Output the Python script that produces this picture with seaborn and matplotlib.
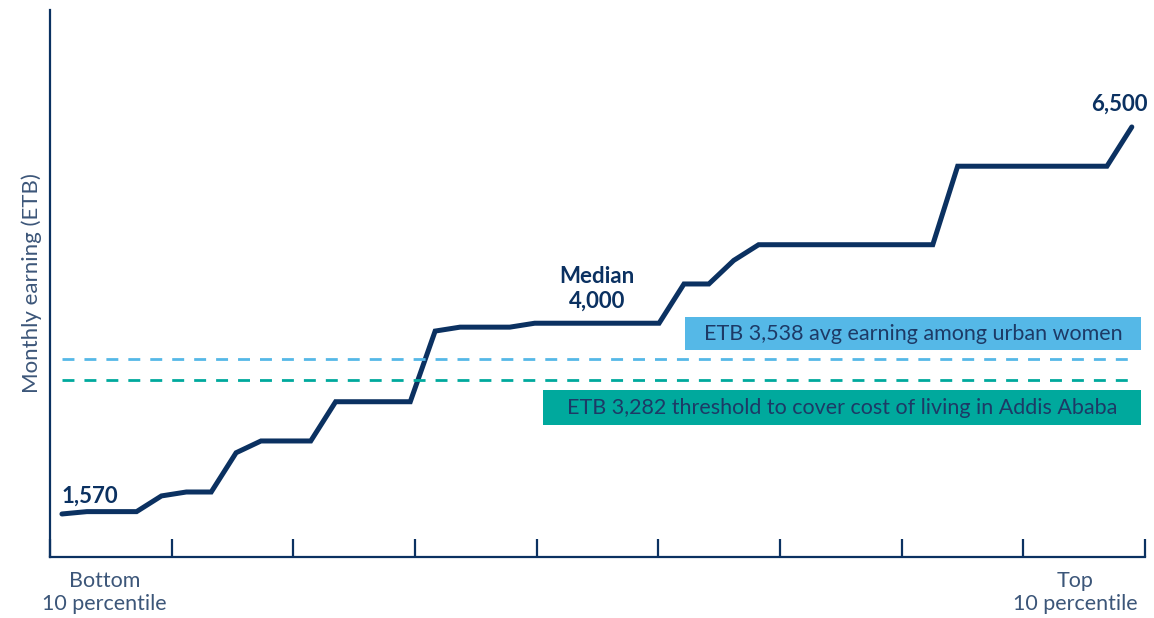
import numpy as np
import pandas as pd
import matplotlib
matplotlib.use("Agg")
import matplotlib.pyplot as plt
import matplotlib.transforms as mtransforms
from matplotlib.patches import Rectangle
import seaborn as sns

# Monthly earnings (ETB) across the earnings distribution, bottom to top
earnings = [1570, 1600, 1600, 1600, 1800, 1850, 1850, 2350, 2500, 2500,
            2500, 3000, 3000, 3000, 3000, 3900, 3950, 3950, 3950, 4000,
            4000, 4000, 4000, 4000, 4000, 4500, 4500, 4800, 5000, 5000,
            5000, 5000, 5000, 5000, 5000, 5000, 6000, 6000, 6000, 6000,
            6000, 6000, 6000, 6500]
rank = list(range(len(earnings)))

avg_urban_women = 3538
living_threshold = 3282
median_value = 4000
median_rank = 19

avg_label = "ETB 3,538 avg earning among urban women"
threshold_label = "ETB 3,282 threshold to cover cost of living in Addis Ababa"
bottom_label = "Bottom\n10 percentile"
top_label = "Top\n10 percentile"
y_label = "Monthly earning (ETB)"

NAVY = "#0b3161"
TEXT = "#1d3a66"
SOFT = "#3c5679"
BLUE = "#55b8e7"
TEAL = "#00a99d"

sns.set_theme(style="white")
plt.rcParams["font.family"] = ["Lato", "DejaVu Sans"]

df = pd.DataFrame({"rank": rank, "earning": earnings})

fig = plt.figure(figsize=(11.54, 6.18), dpi=100)
ax = fig.add_axes([50 / 1154, 1 - 557 / 618, 1095 / 1154, 547 / 618])

sns.lineplot(data=df, x="rank", y="earning", ax=ax, color=NAVY,
             linewidth=3.6, solid_joinstyle="miter", solid_capstyle="round")

x0, x1 = -0.48, 43.53
ax.set_xlim(x0, x1)
ax.set_ylim(1022, 7990)

# reference lines
ax.hlines(avg_urban_women, rank[0], rank[-1], colors=BLUE, linewidth=2.0,
          linestyles=(0, (4.3, 3.6)))
ax.hlines(living_threshold, rank[0], rank[-1], colors=TEAL, linewidth=2.0,
          linestyles=(0, (4.3, 3.6)))

# labelled boxes for the reference lines
ax.add_patch(Rectangle((25.04, 3659), 43.37 - 25.04, 4080 - 3659,
                       facecolor=BLUE, edgecolor="none", zorder=3))
ax.text(34.2, 3868, avg_label, ha="center", va="center",
        fontsize=15.5, color=TEXT, zorder=4)
ax.add_patch(Rectangle((19.33, 2704), 43.37 - 19.33, 3150 - 2704,
                       facecolor=TEAL, edgecolor="none", zorder=3))
ax.text(31.35, 2925, threshold_label, ha="center", va="center",
        fontsize=15.5, color=TEXT, zorder=4)

# value annotations
ax.text(rank[0] + 0.0, earnings[0] + 90, f"{earnings[0]:,}", ha="left",
        va="bottom", fontsize=16, fontweight="bold", color=NAVY)
ax.text(42.5, earnings[-1] + 160, f"{earnings[-1]:,}", ha="center",
        va="bottom", fontsize=16, fontweight="bold", color=NAVY)
ax.text(median_rank + 2.5, median_value + 150, f"Median\n{median_value:,}",
        ha="center", va="bottom", fontsize=16, fontweight="bold",
        color=NAVY, linespacing=1.2)

# axes styling
sns.despine(ax=ax, top=True, right=True)
for side in ("left", "bottom"):
    ax.spines[side].set_color(NAVY)
    ax.spines[side].set_linewidth(1.6)
ax.set_xticks(np.linspace(x0, x1, 10))
ax.set_xticklabels([])
ax.set_yticks([])
ax.tick_params(axis="x", direction="in", length=13, width=1.6, color=NAVY,
               bottom=True)
ax.set_xlabel("")
ax.set_ylabel(y_label, fontsize=16, color=SOFT, labelpad=6)

trans = mtransforms.blended_transform_factory(ax.transAxes, ax.transAxes)
ax.text(0.050, -0.025, bottom_label, transform=trans, ha="center", va="top",
        fontsize=15.5, color=SOFT, linespacing=1.2)
ax.text(0.936, -0.025, top_label, transform=trans, ha="center", va="top",
        fontsize=15.5, color=SOFT, linespacing=1.2)

fig.savefig("out.png", dpi=100)
